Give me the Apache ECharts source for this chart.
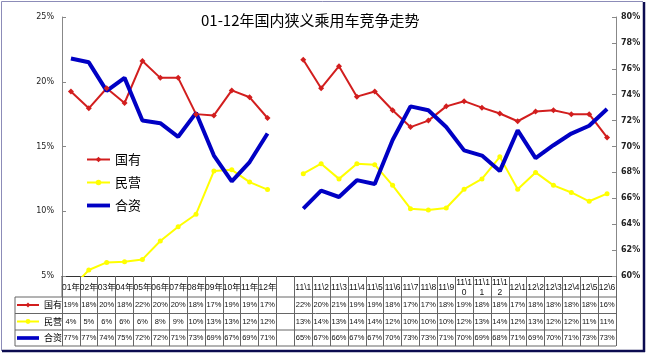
<!DOCTYPE html>
<html><head><meta charset="utf-8">
<script src="https://cdn.jsdelivr.net/npm/echarts@6/dist/echarts.min.js"></script>
<style>html,body{margin:0;padding:0;background:#fff}#c{width:650px;height:358px}</style>
</head><body><div id="c"></div>
<script>
const categories = ['01年','02年','03年','04年','05年','06年','07年','08年','09年','10年','11年','12年','',
  '11\\1','11\\2','11\\3','11\\4','11\\5','11\\6','11\\7','11\\8','11\\9','11\\10','11\\11','11\\12',
  '12\\1','12\\2','12\\3','12\\4','12\\5','12\\6'];
const seriesNames = ['国有','民营','合资'];
const guoyou = [19.25,17.95,19.5,18.36,21.6,20.3,20.3,17.5,17.4,19.33,18.8,17.2,null,
  21.7,19.5,21.2,18.85,19.25,17.8,16.5,17.0,18.1,18.5,18.0,17.55,16.95,17.7,17.8,17.5,17.5,15.7];
const minying = [4.0,5.46,6.05,6.1,6.28,7.7,8.8,9.77,13.1,13.2,12.25,11.67,null,
  12.9,13.67,12.5,13.67,13.6,12.0,10.2,10.1,10.25,11.7,12.5,14.2,11.7,13.0,12.0,11.45,10.77,11.36];
const hezi = [76.8,76.5,74.3,75.3,72.0,71.8,70.75,72.6,69.3,67.3,68.8,71.0,null,
  65.2,66.6,66.1,67.4,67.1,70.5,73.1,72.8,71.5,69.7,69.3,68.1,71.25,69.1,70.1,71.0,71.6,72.9];
const tblGuoyou = ['19%','18%','20%','18%','22%','20%','20%','18%','17%','19%','19%','17%','',
  '22%','20%','21%','19%','19%','18%','17%','17%','18%','19%','18%','18%','17%','18%','18%','18%','18%','16%'];
const tblMinying = ['4%','5%','6%','6%','6%','8%','9%','10%','13%','13%','12%','12%','',
  '13%','14%','13%','14%','14%','12%','10%','10%','10%','12%','13%','14%','12%','13%','12%','12%','11%','11%'];
const tblHezi = ['77%','77%','74%','75%','72%','72%','71%','73%','69%','67%','69%','71%','',
  '65%','67%','66%','67%','67%','70%','73%','73%','71%','70%','69%','68%','71%','69%','70%','71%','73%','73%'];
const leftTicks = {min:5, max:25, interval:5};
const rightTicks = {min:60, max:80, interval:2};

const FONT = '"Noto Sans CJK SC", "DejaVu Sans", sans-serif';
const SMALL = '"Liberation Sans", "Noto Sans CJK SC", sans-serif';
const GL = 62, GR = 34, GT = 17, AXY = 276;
const rowCenters = [305, 321.5, 338];
const tableLines = [297, 313.5, 330, 346];
const tables = [tblGuoyou, tblMinying, tblHezi];
const colors = ['#d21e1e', '#ffff00', '#0000c4'];

const chart = echarts.init(document.getElementById('c'), null, {renderer:'canvas'});

const grids = [{left:GL, right:GR, top:GT, bottom:358-AXY}];
const xAxes = [{
  type:'category', data:categories, gridIndex:0, position:'bottom', boundaryGap:true,
  axisLine:{lineStyle:{color:'#333', width:1}},
  axisTick:{show:true, interval:0, length:tableLines[3]-AXY, lineStyle:{color:'#666'}},
  axisLabel:{interval:0, fontSize:8.5, lineHeight:10, color:'#111', margin:12, verticalAlign:'middle', fontFamily:SMALL,
    formatter:v => v.length > 4 ? v.slice(0,4) + '\n' + v.slice(4) : v}
}];
const yAxes = [
  {type:'value', gridIndex:0, position:'left', min:leftTicks.min, max:leftTicks.max, interval:leftTicks.interval,
   splitLine:{show:false}, axisLine:{show:true, lineStyle:{color:'#888'}},
   axisTick:{show:true, inside:true, length:4, lineStyle:{color:'#888'}},
   axisLabel:{formatter:'{value}%', fontSize:8, color:'#222', margin:8, fontFamily:'"DejaVu Sans", sans-serif'}},
  {type:'value', gridIndex:0, position:'right', min:rightTicks.min, max:rightTicks.max, interval:rightTicks.interval,
   splitLine:{show:false}, axisLine:{show:true, lineStyle:{color:'#888'}},
   axisTick:{show:true, inside:true, length:4, lineStyle:{color:'#888'}},
   axisLabel:{formatter:'{value}%', fontSize:8, fontWeight:'bold', color:'#222', margin:5, fontFamily:'"DejaVu Sans", sans-serif'}}
];
tables.forEach((tbl, i) => {
  grids.push({left:GL, right:GR, top:rowCenters[i], height:1});
  xAxes.push({type:'category', data:categories, gridIndex:i+1, position:'top', boundaryGap:true,
    axisLine:{show:false}, axisTick:{show:false},
    axisLabel:{interval:0, margin:0, verticalAlign:'middle', fontSize:7.5, color:'#111', fontFamily:SMALL,
      formatter:(v, idx) => tbl[idx]}});
  yAxes.push({type:'value', gridIndex:i+1, show:false});
});

const graphics = [];
function line(x1,y1,x2,y2,color,w){graphics.push({type:'line', shape:{x1,y1,x2,y2}, style:{stroke:color, lineWidth:w}, silent:true, z:10});}
tableLines.forEach(y => line(15, y, 650-GR, y, '#666', 1));
line(15, tableLines[0], 15, tableLines[3], '#666', 1);
line(GL, AXY, GL, tableLines[0], '#666', 1);
// outer frame
line(1.5, 1.5, 643, 1.5, '#8c8cb8', 1);
line(1.5, 1.5, 1.5, 351, '#8c8cb8', 1);
line(644, 2, 644, 352, '#0c0c50', 2.5);
line(2, 351, 645, 351, '#0c0c50', 2.5);

const flatIcon = 'path://M0,0H24V4H0Z';
function legendData(){
  return [{name:seriesNames[0]}, {name:seriesNames[1]}, {name:seriesNames[2], icon:flatIcon, itemStyle:{color:colors[2]}}];
}

chart.setOption({
  backgroundColor:'#fff',
  animation:false,
  title:{text:'01-12年国内狭义乘用车竞争走势', left:196, top:8,
    textStyle:{fontSize:15, fontWeight:'normal', color:'#000', fontFamily:FONT}},
  legend:[
    {data:legendData(), orient:'vertical', left:86, top:153, padding:0, itemWidth:23, itemHeight:7, itemGap:10,
     textStyle:{fontSize:13, color:'#000', fontFamily:FONT}},
    {data:legendData(), orient:'vertical', left:16, top:rowCenters[0]-4.5, padding:0, itemWidth:22, itemHeight:6, itemGap:7.5,
     textStyle:{fontSize:9, color:'#000', fontFamily:FONT}}
  ],
  grid:grids, xAxis:xAxes, yAxis:yAxes,
  series:[
    {name:seriesNames[0], type:'line', data:guoyou, xAxisIndex:0, yAxisIndex:0, connectNulls:false,
     symbol:'diamond', symbolSize:6, showSymbol:true, color:colors[0],
     lineStyle:{width:2, color:colors[0]}, itemStyle:{color:colors[0]}},
    {name:seriesNames[1], type:'line', data:minying, xAxisIndex:0, yAxisIndex:0, connectNulls:false,
     symbol:'circle', symbolSize:5, showSymbol:true, color:colors[1], clip:true,
     lineStyle:{width:2, color:colors[1]}, itemStyle:{color:colors[1]}},
    {name:seriesNames[2], type:'line', data:hezi, xAxisIndex:0, yAxisIndex:1, connectNulls:false,
     symbol:'none', color:colors[2],
     lineStyle:{width:4, color:colors[2]}, itemStyle:{color:colors[2]}}
  ],
  graphic:graphics
});
</script></body></html>
